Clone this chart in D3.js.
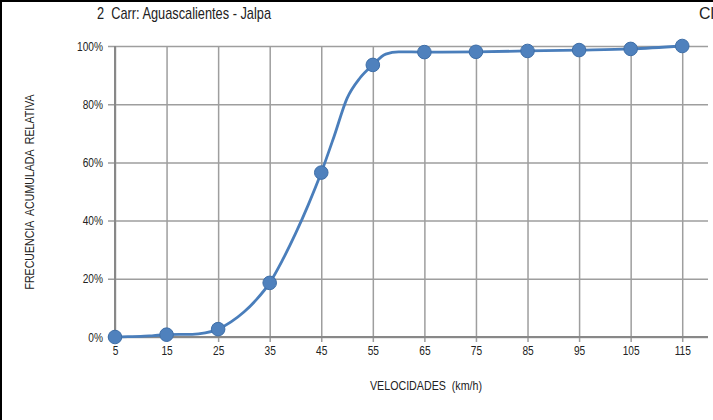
<!DOCTYPE html>
<html>
<head>
<meta charset="utf-8">
<script src="https://cdn.jsdelivr.net/npm/d3@7"></script>
<style>
  html, body { margin: 0; padding: 0; background: #fff; }
  svg { display: block; }
  text { font-family: "Liberation Sans", Arial, sans-serif; fill: #222; white-space: pre; }
</style>
</head>
<body>
<div id="chart"></div>
<script>
// ---- data ----
const title = "2  Carr: Aguascalientes - Jalpa";
const cutTitle = "Cl";
const xTitle = "VELOCIDADES  (km/h)";
const yTitle = "FRECUENCIA  ACUMULADA  RELATIVA";
const xTicks = [5, 15, 25, 35, 45, 55, 65, 75, 85, 95, 105, 115];
const yTicks = [0, 0.2, 0.4, 0.6, 0.8, 1.0];
// curve (line) points
const lineSpeeds = [5, 7.5, 10, 12.5, 15, 17.5, 20, 22.5, 25, 27.5, 30, 32.5, 35, 37.5, 40, 42.5, 45, 47.5, 50, 52.5, 55, 57.5, 60, 65, 75, 85, 95, 105, 115];
const lineFreq   = [0, 0.001, 0.002, 0.005, 0.008, 0.009, 0.009, 0.014, 0.027, 0.052, 0.086, 0.13, 0.186, 0.265, 0.355, 0.455, 0.565, 0.69, 0.82, 0.89, 0.935, 0.972, 0.98, 0.979, 0.98, 0.983, 0.986, 0.99, 1.0];
// marker points
const markerSpeeds = [5, 15, 25, 35, 45, 55, 65, 75, 85, 95, 105, 115];
const markerFreq   = [0, 0.008, 0.027, 0.186, 0.565, 0.935, 0.979, 0.98, 0.983, 0.986, 0.99, 1.0];

// ---- drawing ----
const W = 713, H = 420;
const svg = d3.select("#chart").append("svg").attr("width", W).attr("height", H);

function condense(sel, factor) {
  sel.each(function () {
    const w = this.getComputedTextLength();
    d3.select(this).attr("textLength", w * factor).attr("lengthAdjust", "spacingAndGlyphs");
  });
}

svg.append("rect").attr("x", 0).attr("y", 0).attr("width", W).attr("height", H).attr("fill", "#fff");
svg.append("rect").attr("x", 0).attr("y", 0).attr("width", 2).attr("height", H).attr("fill", "#000");
svg.append("rect").attr("x", 0).attr("y", 0).attr("width", W).attr("height", 2).attr("fill", "#000");

const x = d3.scaleLinear().domain([5, 120]).range([115, 708]);
const y = d3.scaleLinear().domain([0, 1]).range([337, 46]);

const gridColor = "#9e9e9e";

// horizontal gridlines + y axis
const yAxis = d3.axisLeft(y).tickValues(yTicks).tickFormat(d3.format(".0%"))
  .tickSize(-(x.range()[1] - x.range()[0])).tickPadding(4);
const gy = svg.append("g").attr("transform", `translate(${x.range()[0]},0)`).call(yAxis);
gy.select(".domain").remove();
gy.selectAll(".tick line").attr("stroke", gridColor).attr("stroke-width", 1.5).attr("x1", -7).attr("x2", x.range()[1] - x.range()[0]);
gy.selectAll(".tick text").attr("font-size", 13).attr("fill", "#222")
  .attr("font-family", "'Liberation Sans', Arial, sans-serif").attr("x", -12).call(condense, 0.78);

// vertical gridlines + x axis
const xAxis = d3.axisBottom(x).tickValues(xTicks).tickFormat(d3.format("d"))
  .tickSize(-(y.range()[0] - y.range()[1])).tickPadding(8);
const gx = svg.append("g").attr("transform", `translate(0,${y.range()[0]})`).call(xAxis);
gx.select(".domain").remove();
gx.selectAll(".tick line").attr("stroke", gridColor).attr("stroke-width", 1.5).attr("y1", 5);
gx.selectAll(".tick text").attr("font-size", 13).attr("fill", "#222")
  .attr("font-family", "'Liberation Sans', Arial, sans-serif").attr("y", 9).call(condense, 0.78);

// axis lines
svg.append("line").attr("x1", x(5)).attr("x2", x(5)).attr("y1", y(1)).attr("y2", y(0))
  .attr("stroke", "#888").attr("stroke-width", 2);
svg.append("line").attr("x1", x(5) - 7).attr("x2", x.range()[1]).attr("y1", y(0)).attr("y2", y(0))
  .attr("stroke", "#888").attr("stroke-width", 2);

// line
const pts = lineSpeeds.map((s, i) => [s, lineFreq[i]]);
svg.append("path").datum(pts)
  .attr("fill", "none").attr("stroke", "#4a7ebb").attr("stroke-width", 2.8)
  .attr("stroke-linejoin", "round")
  .attr("d", d3.line().x(d => x(d[0])).y(d => y(d[1])).curve(d3.curveMonotoneX));

// markers
const mk = markerSpeeds.map((s, i) => [s, markerFreq[i]]);
svg.append("g").selectAll("circle").data(mk).join("circle")
  .attr("cx", d => x(d[0])).attr("cy", d => y(d[1])).attr("r", 6.8)
  .attr("fill", "#4f81bd").attr("stroke", "#3f6fa8").attr("stroke-width", 1);

// titles
svg.append("text").attr("x", 97).attr("y", 19).attr("font-size", 17)
  .attr("textLength", 174).attr("lengthAdjust", "spacingAndGlyphs").text(title);
svg.append("text").attr("x", 699).attr("y", 19).attr("font-size", 17)
  .attr("textLength", 15).attr("lengthAdjust", "spacingAndGlyphs").text(cutTitle);
svg.append("text").attr("x", 426).attr("y", 390).attr("text-anchor", "middle").attr("font-size", 12.5)
  .attr("textLength", 112).attr("lengthAdjust", "spacingAndGlyphs").text(xTitle);
svg.append("text").attr("transform", "translate(34,192) rotate(-90)").attr("text-anchor", "middle")
  .attr("font-size", 12.5).attr("textLength", 195).attr("lengthAdjust", "spacingAndGlyphs").text(yTitle);
</script>
</body>
</html>
